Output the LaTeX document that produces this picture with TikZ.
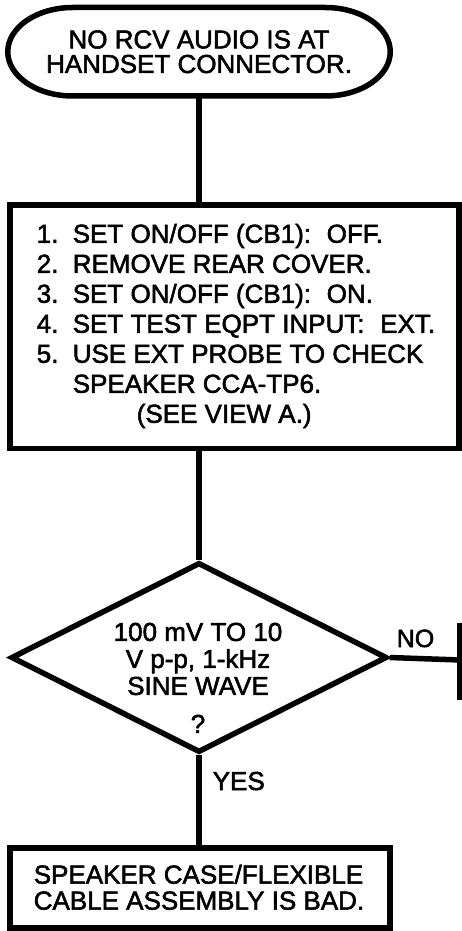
\documentclass[tikz,border=0pt]{standalone}
\usepackage{fontspec}
\setmainfont{Liberation Sans}[FakeBold=2]
\usetikzlibrary{shapes.geometric}
\begin{document}
\begin{tikzpicture}[x=1pt,y=-1pt,line width=5.5pt,
 font=\fontsize{26}{30}\selectfont,
 term/.style={rectangle,inner sep=0pt,outer sep=0pt,align=center,
  minimum width=382.5pt,minimum height=88.5pt},
 stepbox/.style={draw,rectangle,inner sep=0pt},
 decide/.style={draw,diamond,inner sep=0pt,
  minimum width=376pt,minimum height=190pt},
 txt/.style={inner sep=0pt,align=left}]
 \useasboundingbox (0,0) rectangle (462,931);
 % start
 \node[term,font=\fontsize{26}{24.5}\selectfont] (start) at (199,51.75)
  {NO RCV AUDIO IS AT\\HANDSET CONNECTOR.};
 \draw ([xshift=65pt]start.north west) -- ([xshift=-65pt]start.north east)
  arc[start angle=90,end angle=-90,x radius=65pt,y radius=44.25pt]
  -- ([xshift=65pt]start.south west)
  arc[start angle=270,end angle=90,x radius=65pt,y radius=44.25pt] -- cycle;
 % steps
 \node[stepbox,minimum width=449pt,minimum height=243.5pt] (steps) at (234.5,326.75) {};
 \node[txt,anchor=north west] (stepslist) at (34,219)
  {\begin{tabular}{@{}p{36pt}@{}l@{}}
   1. & SET ON/OFF (CB1):\hspace{.6em}OFF.\\
   2. & REMOVE REAR COVER.\\
   3. & SET ON/OFF (CB1):\hspace{.6em}ON.\\
   4. & SET TEST EQPT INPUT:\hspace{.6em}EXT.\\
   5. & USE EXT PROBE TO CHECK\\
      & SPEAKER CCA-TP6.\\
      & \hspace{64pt}(SEE VIEW A.)
  \end{tabular}};
 % decision
 \node[decide] (check) at (199,657.5) {};
 \node[inner sep=0pt,align=center,font=\fontsize{26}{27}\selectfont,anchor=north]
  (checktext) at (198,620) {100 mV TO 10\\V p-p, 1-kHz\\SINE WAVE\\[11pt]?};
 % result
 \node[stepbox,minimum width=380pt,minimum height=80pt] (result) at (200,888) {};
 \node[txt,anchor=north west,font=\fontsize{26}{26}\selectfont] (resulttext) at (31,862)
  {SPEAKER CASE/FLEXIBLE\\CABLE ASSEMBLY IS BAD.};
 % connectors
 \draw (start.south) -- (start.south |- steps.north);
 \draw (start.south |- steps.south) -- (check.north);
 \draw (check.south) -- (check.south |- result.north);
 \coordinate (offpage) at (460,660);
 \draw (check.east) -- (offpage);
 \draw (offpage) ++(0,-37) -- ++(0,77);
 \node[inner sep=0pt,anchor=base west,font=\fontsize{25}{25}\selectfont] (nolabel) at (394,647) {NO};
 \node[inner sep=0pt,anchor=base west] (yeslabel) at (210,790) {YES};
\end{tikzpicture}
\end{document}
